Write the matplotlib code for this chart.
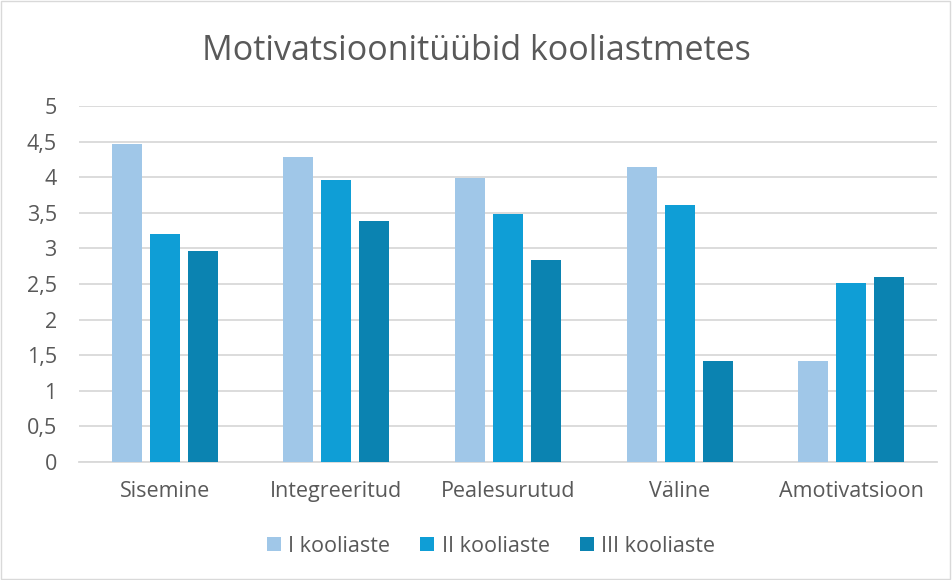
import numpy as np
import matplotlib.pyplot as plt
from matplotlib.patches import Rectangle

categories = ["Sisemine", "Integreeritud", "Pealesurutud", "Väline", "Amotivatsioon"]
series_names = ["I kooliaste", "II kooliaste", "III kooliaste"]
vals_1 = [4.46, 4.28, 3.99, 4.14, 1.42]
vals_2 = [3.20, 3.96, 3.48, 3.61, 2.51]
vals_3 = [2.96, 3.38, 2.84, 1.42, 2.60]
yticks = [0, 0.5, 1, 1.5, 2, 2.5, 3, 3.5, 4, 4.5, 5]
ytick_labels = ["0", "0,5", "1", "1,5", "2", "2,5", "3", "3,5", "4", "4,5", "5"]

colours = ["#A0C7E8", "#0F9ED6", "#0B83B1"]
grey = "#595959"

plt.rcParams["font.family"] = ["Open Sans", "DejaVu Sans"]

fig = plt.figure(figsize=(9.52, 5.8), dpi=100)
ax = fig.add_axes([79 / 952, 1 - 462 / 580, 858 / 952, 356 / 580])

x = np.arange(len(categories))
w = 0.175
step = 0.221
for i, (vals, name) in enumerate(zip([vals_1, vals_2, vals_3], series_names)):
    ax.bar(x + (i - 1) * step, vals, width=w, color=colours[i], label=name, zorder=3)

ax.set_xlim(-0.5, len(categories) - 0.5)
ax.set_ylim(0, 5)
ax.set_yticks(yticks)
ax.set_yticklabels(ytick_labels)
ax.set_xticks(x)
ax.set_xticklabels(categories)
ax.yaxis.grid(True, color="#D9D9D9", linewidth=1.3, zorder=0)
for s in ["top", "right", "left"]:
    ax.spines[s].set_visible(False)
ax.spines["bottom"].set_color("#D9D9D9")
ax.spines["bottom"].set_linewidth(1.3)
ax.tick_params(axis="both", length=0, colors=grey, labelsize=15.5)
ax.tick_params(axis="y", pad=16)
ax.tick_params(axis="x", pad=14)

fig.text(0.5, 1 - 51 / 580, "Motivatsioonitüübid kooliastmetes", ha="center", va="center",
         fontsize=24.5, color=grey)

ax.legend(loc="center", bbox_to_anchor=(491 / 952, 1 - 546 / 580), bbox_transform=fig.transFigure,
          ncol=3, frameon=False, fontsize=15.5, labelcolor=grey, handlelength=0.65, handleheight=0.65,
          handletextpad=0.35, columnspacing=1.4)

fig.patches.append(Rectangle((0.001, 0.002), 0.997, 0.996, transform=fig.transFigure,
                             fill=False, edgecolor="#D9D9D9", linewidth=1))

fig.savefig("out.png", dpi=100)
